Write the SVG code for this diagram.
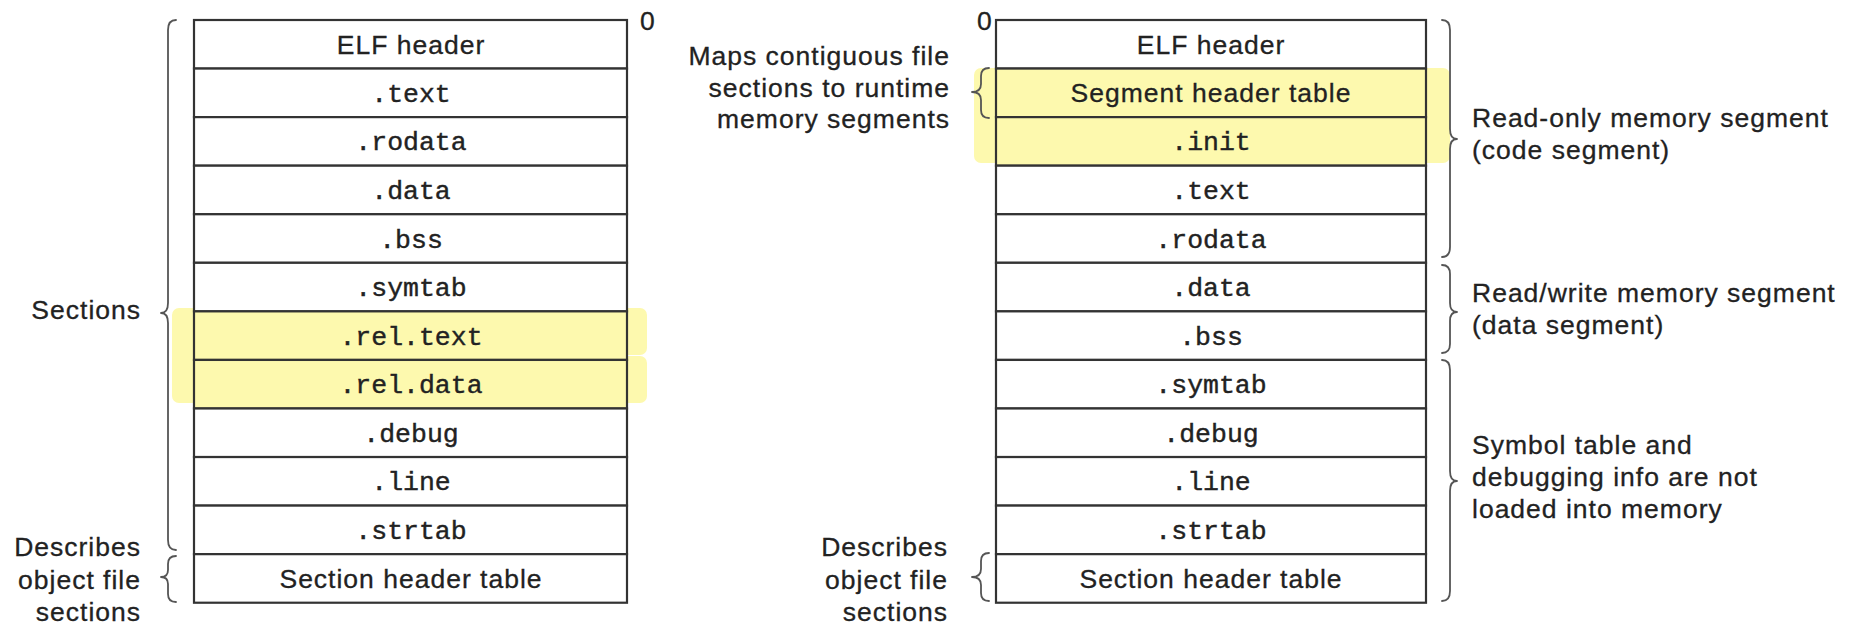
<svg xmlns="http://www.w3.org/2000/svg" width="1862" height="626" viewBox="0 0 1862 626">
  <style>
    .cell { fill: #ffffff; stroke: #333333; stroke-width: 2.2; }
    .cell.hl { fill: #fdf9ae; }
    .hlband { fill: #fdf9ae; }
    .sans { font-family: "Liberation Sans", Arial, sans-serif; font-size: 26.5px; letter-spacing: 1px; fill: #222222; stroke: #222222; stroke-width: 0.3; }
    .mono { font-family: "Liberation Mono", "Courier New", monospace; font-size: 26.5px; fill: #222222; stroke: #222222; stroke-width: 0.4; }
    .mid { text-anchor: middle; }
    .end { text-anchor: end; }
    .brace { fill: none; stroke: #555555; stroke-width: 1.8; stroke-linecap: round; stroke-linejoin: round; }
  </style>

  <!-- yellow bands behind the highlighted rows -->
  <g id="highlights">
    <rect class="hlband" x="172" y="308" width="475" height="47" rx="7"/>
    <rect class="hlband" x="172" y="356" width="475" height="47" rx="7"/>
    <rect class="hlband" x="172" y="330" width="30" height="50"/>
    <rect class="hlband" x="974" y="68" width="476" height="95" rx="7"/>
  </g>

  <!-- relocatable object file (left) -->
  <g id="relocatable">
    <g id="l-elf"><rect class="cell" x="194" y="20" width="433" height="48.56"/><text class="sans mid" x="411" y="53.5">ELF header</text></g>
    <g id="l-text"><rect class="cell" x="194" y="68.56" width="433" height="48.56"/><text class="mono mid" x="411" y="101.8">.text</text></g>
    <g id="l-rodata"><rect class="cell" x="194" y="117.12" width="433" height="48.56"/><text class="mono mid" x="411" y="150.4">.rodata</text></g>
    <g id="l-data"><rect class="cell" x="194" y="165.68" width="433" height="48.56"/><text class="mono mid" x="411" y="199">.data</text></g>
    <g id="l-bss"><rect class="cell" x="194" y="214.24" width="433" height="48.56"/><text class="mono mid" x="411" y="247.5">.bss</text></g>
    <g id="l-symtab"><rect class="cell" x="194" y="262.8" width="433" height="48.56"/><text class="mono mid" x="411" y="296.1">.symtab</text></g>
    <g id="l-reltext"><rect class="cell hl" x="194" y="311.36" width="433" height="48.56"/><text class="mono mid" x="411" y="344.6">.rel.text</text></g>
    <g id="l-reldata"><rect class="cell hl" x="194" y="359.92" width="433" height="48.56"/><text class="mono mid" x="411" y="393.2">.rel.data</text></g>
    <g id="l-debug"><rect class="cell" x="194" y="408.48" width="433" height="48.56"/><text class="mono mid" x="411" y="441.8">.debug</text></g>
    <g id="l-line"><rect class="cell" x="194" y="457.04" width="433" height="48.56"/><text class="mono mid" x="411" y="490.3">.line</text></g>
    <g id="l-strtab"><rect class="cell" x="194" y="505.6" width="433" height="48.56"/><text class="mono mid" x="411" y="538.9">.strtab</text></g>
    <g id="l-sht"><rect class="cell" x="194" y="554.16" width="433" height="48.56"/><text class="sans mid" x="411" y="587.5">Section header table</text></g>
    <text class="sans" x="640" y="29.5">0</text>
  </g>

  <!-- executable object file (right) -->
  <g id="executable">
    <g id="r-elf"><rect class="cell" x="996" y="20" width="430" height="48.56"/><text class="sans mid" x="1211" y="53.5">ELF header</text></g>
    <g id="r-segtab"><rect class="cell hl" x="996" y="68.56" width="430" height="48.56"/><text class="sans mid" x="1211" y="102">Segment header table</text></g>
    <g id="r-init"><rect class="cell hl" x="996" y="117.12" width="430" height="48.56"/><text class="mono mid" x="1211" y="150.4">.init</text></g>
    <g id="r-text"><rect class="cell" x="996" y="165.68" width="430" height="48.56"/><text class="mono mid" x="1211" y="199">.text</text></g>
    <g id="r-rodata"><rect class="cell" x="996" y="214.24" width="430" height="48.56"/><text class="mono mid" x="1211" y="247.5">.rodata</text></g>
    <g id="r-data"><rect class="cell" x="996" y="262.8" width="430" height="48.56"/><text class="mono mid" x="1211" y="296.1">.data</text></g>
    <g id="r-bss"><rect class="cell" x="996" y="311.36" width="430" height="48.56"/><text class="mono mid" x="1211" y="344.6">.bss</text></g>
    <g id="r-symtab"><rect class="cell" x="996" y="359.92" width="430" height="48.56"/><text class="mono mid" x="1211" y="393.2">.symtab</text></g>
    <g id="r-debug"><rect class="cell" x="996" y="408.48" width="430" height="48.56"/><text class="mono mid" x="1211" y="441.8">.debug</text></g>
    <g id="r-line"><rect class="cell" x="996" y="457.04" width="430" height="48.56"/><text class="mono mid" x="1211" y="490.3">.line</text></g>
    <g id="r-strtab"><rect class="cell" x="996" y="505.6" width="430" height="48.56"/><text class="mono mid" x="1211" y="538.9">.strtab</text></g>
    <g id="r-sht"><rect class="cell" x="996" y="554.16" width="430" height="48.56"/><text class="sans mid" x="1211" y="587.5">Section header table</text></g>
    <text class="sans" x="977" y="29.5">0</text>
  </g>

  <!-- curly braces -->
  <g id="braces">
    <!-- left side, opening left -->
    <path class="brace" d="M176 20 Q168 20 168 30 L168 303 Q168 313 161 313 Q168 313 168 323 L168 540 Q168 550 176 550"/>
    <path class="brace" d="M176 556 Q168 556 168 564 L168 570 Q168 577 161 577 Q168 577 168 584 L168 594 Q168 602 176 602"/>
    <path class="brace" d="M989 68 Q981 68 981 76 L981 84 Q981 92 972 92 Q981 92 981 100 L981 110 Q981 118 989 118"/>
    <path class="brace" d="M989 553 Q981 553 981 561 L981 569 Q981 577 972 577 Q981 577 981 585 L981 593 Q981 601 989 601"/>
    <!-- right side, opening right -->
    <path class="brace" d="M1442 20 Q1450 20 1450 30 L1450 129 Q1450 139 1457 139 Q1450 139 1450 149 L1450 247 Q1450 257 1442 257"/>
    <path class="brace" d="M1442 265 Q1450 265 1450 274 L1450 303 Q1450 312 1457 312 Q1450 312 1450 321 L1450 344 Q1450 353 1442 353"/>
    <path class="brace" d="M1442 360 Q1450 360 1450 370 L1450 471 Q1450 481 1457 481 Q1450 481 1450 491 L1450 591 Q1450 601 1442 601"/>
  </g>

  <!-- annotations -->
  <g id="labels">
    <text class="sans end" x="141" y="318.5">Sections</text>
    <text class="sans end" x="141" y="556">Describes</text>
    <text class="sans end" x="141" y="588.5">object file</text>
    <text class="sans end" x="141" y="621">sections</text>

    <text class="sans end" x="950" y="65">Maps contiguous file</text>
    <text class="sans end" x="950" y="96.5">sections to runtime</text>
    <text class="sans end" x="950" y="128">memory segments</text>

    <text class="sans end" x="948" y="556">Describes</text>
    <text class="sans end" x="948" y="588.5">object file</text>
    <text class="sans end" x="948" y="621">sections</text>

    <text class="sans" x="1472" y="127">Read-only memory segment</text>
    <text class="sans" x="1472" y="159">(code segment)</text>
    <text class="sans" x="1472" y="301.5">Read/write memory segment</text>
    <text class="sans" x="1472" y="333.5">(data segment)</text>
    <text class="sans" x="1472" y="454">Symbol table and</text>
    <text class="sans" x="1472" y="486">debugging info are not</text>
    <text class="sans" x="1472" y="518">loaded into memory</text>
  </g>
</svg>
